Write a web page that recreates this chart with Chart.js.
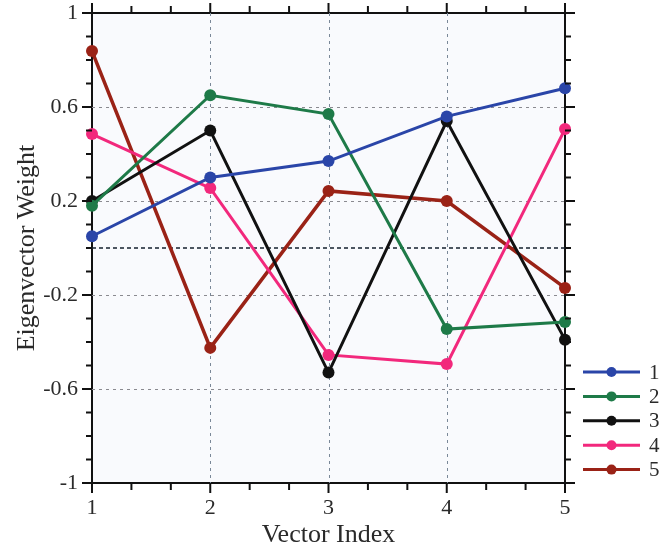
<!DOCTYPE html>
<html>
<head>
<meta charset="utf-8">
<script src="https://cdn.jsdelivr.net/npm/chart.js@4/dist/chart.umd.min.js"></script>
<style>
html,body{margin:0;padding:0;background:#fff;}
#wrap{width:660px;height:552px;}
</style>
</head>
<body>
<div id="wrap"><canvas id="c" width="660" height="552"></canvas></div>
<script>
const categories = [1, 2, 3, 4, 5];
const seriesNames = ['1', '2', '3', '4', '5'];
const series1 = [0.05, 0.30, 0.37, 0.56, 0.68];
const series2 = [0.18, 0.65, 0.57, -0.345, -0.315];
const series3 = [0.20, 0.50, -0.53, 0.54, -0.39];
const series4 = [0.485, 0.255, -0.455, -0.494, 0.506];
const series5 = [0.838, -0.425, 0.243, 0.20, -0.17];
const yTickLabels = [-1, -0.6, -0.2, 0.2, 0.6, 1];
const colors = ['#2a45a8', '#1e7a48', '#111111', '#f2287c', '#9a2216'];

const allSeries = [series1, series2, series3, series4, series5];
const datasets = allSeries.map((s, i) => ({
  label: seriesNames[i],
  data: s.map((v, j) => ({x: categories[j], y: v})),
  borderColor: colors[i],
  backgroundColor: colors[i],
  borderWidth: i === 4 ? 3.5 : 3,
  pointRadius: 6,
  pointHoverRadius: 6,
  pointBorderWidth: 0,
  tension: 0,
  clip: false
}));

const serif = '"Liberation Serif", "DejaVu Serif", serif';
const textColor = '#2a2a2a';

const decor = {
  id: 'decor',
  beforeDraw(chart) {
    const {ctx, chartArea: a} = chart;
    ctx.save();
    ctx.fillStyle = '#f9fafd';
    ctx.fillRect(a.left, a.top, a.right - a.left, a.bottom - a.top);
    ctx.restore();
  },
  beforeDatasetsDraw(chart) {
    const {ctx, chartArea: a, scales} = chart;
    const xs = scales.x, ys = scales.y;
    ctx.save();
    ctx.lineWidth = 1;
    // horizontal grid
    [0.6, 0.2, -0.2, -0.6].forEach(v => {
      const y = Math.round(ys.getPixelForValue(v)) + 0.5;
      ctx.strokeStyle = '#8a8a90';
      ctx.setLineDash([3, 4]);
      ctx.beginPath(); ctx.moveTo(a.left, y); ctx.lineTo(a.right, y); ctx.stroke();
    });
    // zero line
    const y0 = Math.round(ys.getPixelForValue(0));
    ctx.strokeStyle = '#15202e';
    ctx.lineWidth = 1.5;
    ctx.setLineDash([4, 3]);
    ctx.beginPath(); ctx.moveTo(a.left, y0); ctx.lineTo(a.right, y0); ctx.stroke();
    // vertical grid
    ctx.lineWidth = 1;
    [2, 3, 4].forEach(v => {
      const x = Math.round(xs.getPixelForValue(v)) + 0.5;
      ctx.strokeStyle = '#7a8898';
      ctx.setLineDash([3, 4]);
      ctx.beginPath(); ctx.moveTo(x, a.top); ctx.lineTo(x, a.bottom); ctx.stroke();
    });
    ctx.restore();
  },
  afterDraw(chart) {
    const {ctx, chartArea: a, scales} = chart;
    const xs = scales.x, ys = scales.y;
    ctx.save();
    ctx.strokeStyle = '#111';
    ctx.lineWidth = 2;
    ctx.setLineDash([]);
    // y ticks (left & right)
    for (let k = 0; k <= 20; k++) {
      const v = -1 + k * 0.1;
      const major = k % 4 === 0;
      const y = ys.getPixelForValue(v);
      const len = major ? 10 : 6;
      ctx.beginPath(); ctx.moveTo(a.left - len, y); ctx.lineTo(a.left, y); ctx.stroke();
      ctx.beginPath(); ctx.moveTo(a.right, y); ctx.lineTo(a.right + len, y); ctx.stroke();
    }
    // x ticks (bottom & top)
    for (let k = 0; k <= 12; k++) {
      const v = 1 + k / 3;
      const major = k % 3 === 0;
      const x = xs.getPixelForValue(v);
      const len = major ? 10 : 7;
      ctx.beginPath(); ctx.moveTo(x, a.bottom); ctx.lineTo(x, a.bottom + len); ctx.stroke();
      ctx.beginPath(); ctx.moveTo(x, a.top); ctx.lineTo(x, a.top - len); ctx.stroke();
    }
    // legend
    const lx = 583, lw = 57, ly0 = 372, ldy = 24.4;
    chart.data.datasets.forEach((ds, i) => {
      const y = ly0 + i * ldy;
      ctx.strokeStyle = ds.borderColor;
      ctx.lineWidth = 3;
      ctx.beginPath(); ctx.moveTo(lx, y); ctx.lineTo(lx + lw, y); ctx.stroke();
      ctx.fillStyle = ds.borderColor;
      ctx.beginPath(); ctx.arc(lx + lw / 2, y, 5, 0, Math.PI * 2); ctx.fill();
      ctx.fillStyle = textColor;
      ctx.font = '21px ' + serif;
      ctx.textBaseline = 'middle';
      ctx.textAlign = 'left';
      ctx.fillText(ds.label, 649, y + 1);
    });
    ctx.restore();
  }
};

new Chart(document.getElementById('c'), {
  type: 'line',
  data: {datasets},
  options: {
    responsive: false,
    animation: false,
    events: [],
    layout: {padding: 0},
    plugins: {legend: {display: false}, tooltip: {enabled: false}},
    scales: {
      x: {
        type: 'linear', position: 'bottom', min: 1, max: 5,
        ticks: {stepSize: 1, color: textColor, font: {family: serif, size: 22}, padding: 12, maxRotation: 0},
        grid: {display: false, drawTicks: false},
        border: {display: true, color: '#111', width: 2},
        title: {display: true, text: 'Vector Index', color: textColor, font: {family: serif, size: 26}, padding: {top: 0, bottom: 1}},
        afterFit(s) { s.height = 69; s.paddingLeft = 0; s.paddingRight = 0; }
      },
      x2: {
        type: 'linear', position: 'top', min: 1, max: 5,
        ticks: {display: false},
        grid: {display: false, drawTicks: false},
        border: {display: true, color: '#111', width: 2},
        afterFit(s) { s.height = 13; }
      },
      y: {
        type: 'linear', position: 'left', min: -1, max: 1,
        ticks: {
          stepSize: 0.1, autoSkip: false, color: textColor, font: {family: serif, size: 22}, padding: 14,
          callback(v) {
            const hit = yTickLabels.find(t => Math.abs(t - v) < 1e-6);
            return hit === undefined ? '' : String(hit);
          }
        },
        grid: {display: false, drawTicks: false},
        border: {display: true, color: '#111', width: 2},
        title: {display: true, text: 'Eigenvector Weight', color: textColor, font: {family: serif, size: 26}, padding: {top: 12, bottom: 0}},
        afterFit(s) { s.width = 92; s.paddingTop = 0; s.paddingBottom = 0; }
      },
      y2: {
        type: 'linear', position: 'right', min: -1, max: 1,
        ticks: {display: false},
        grid: {display: false, drawTicks: false},
        border: {display: true, color: '#111', width: 2},
        afterFit(s) { s.width = 95; }
      }
    }
  },
  plugins: [decor]
});
</script>
</body>
</html>
